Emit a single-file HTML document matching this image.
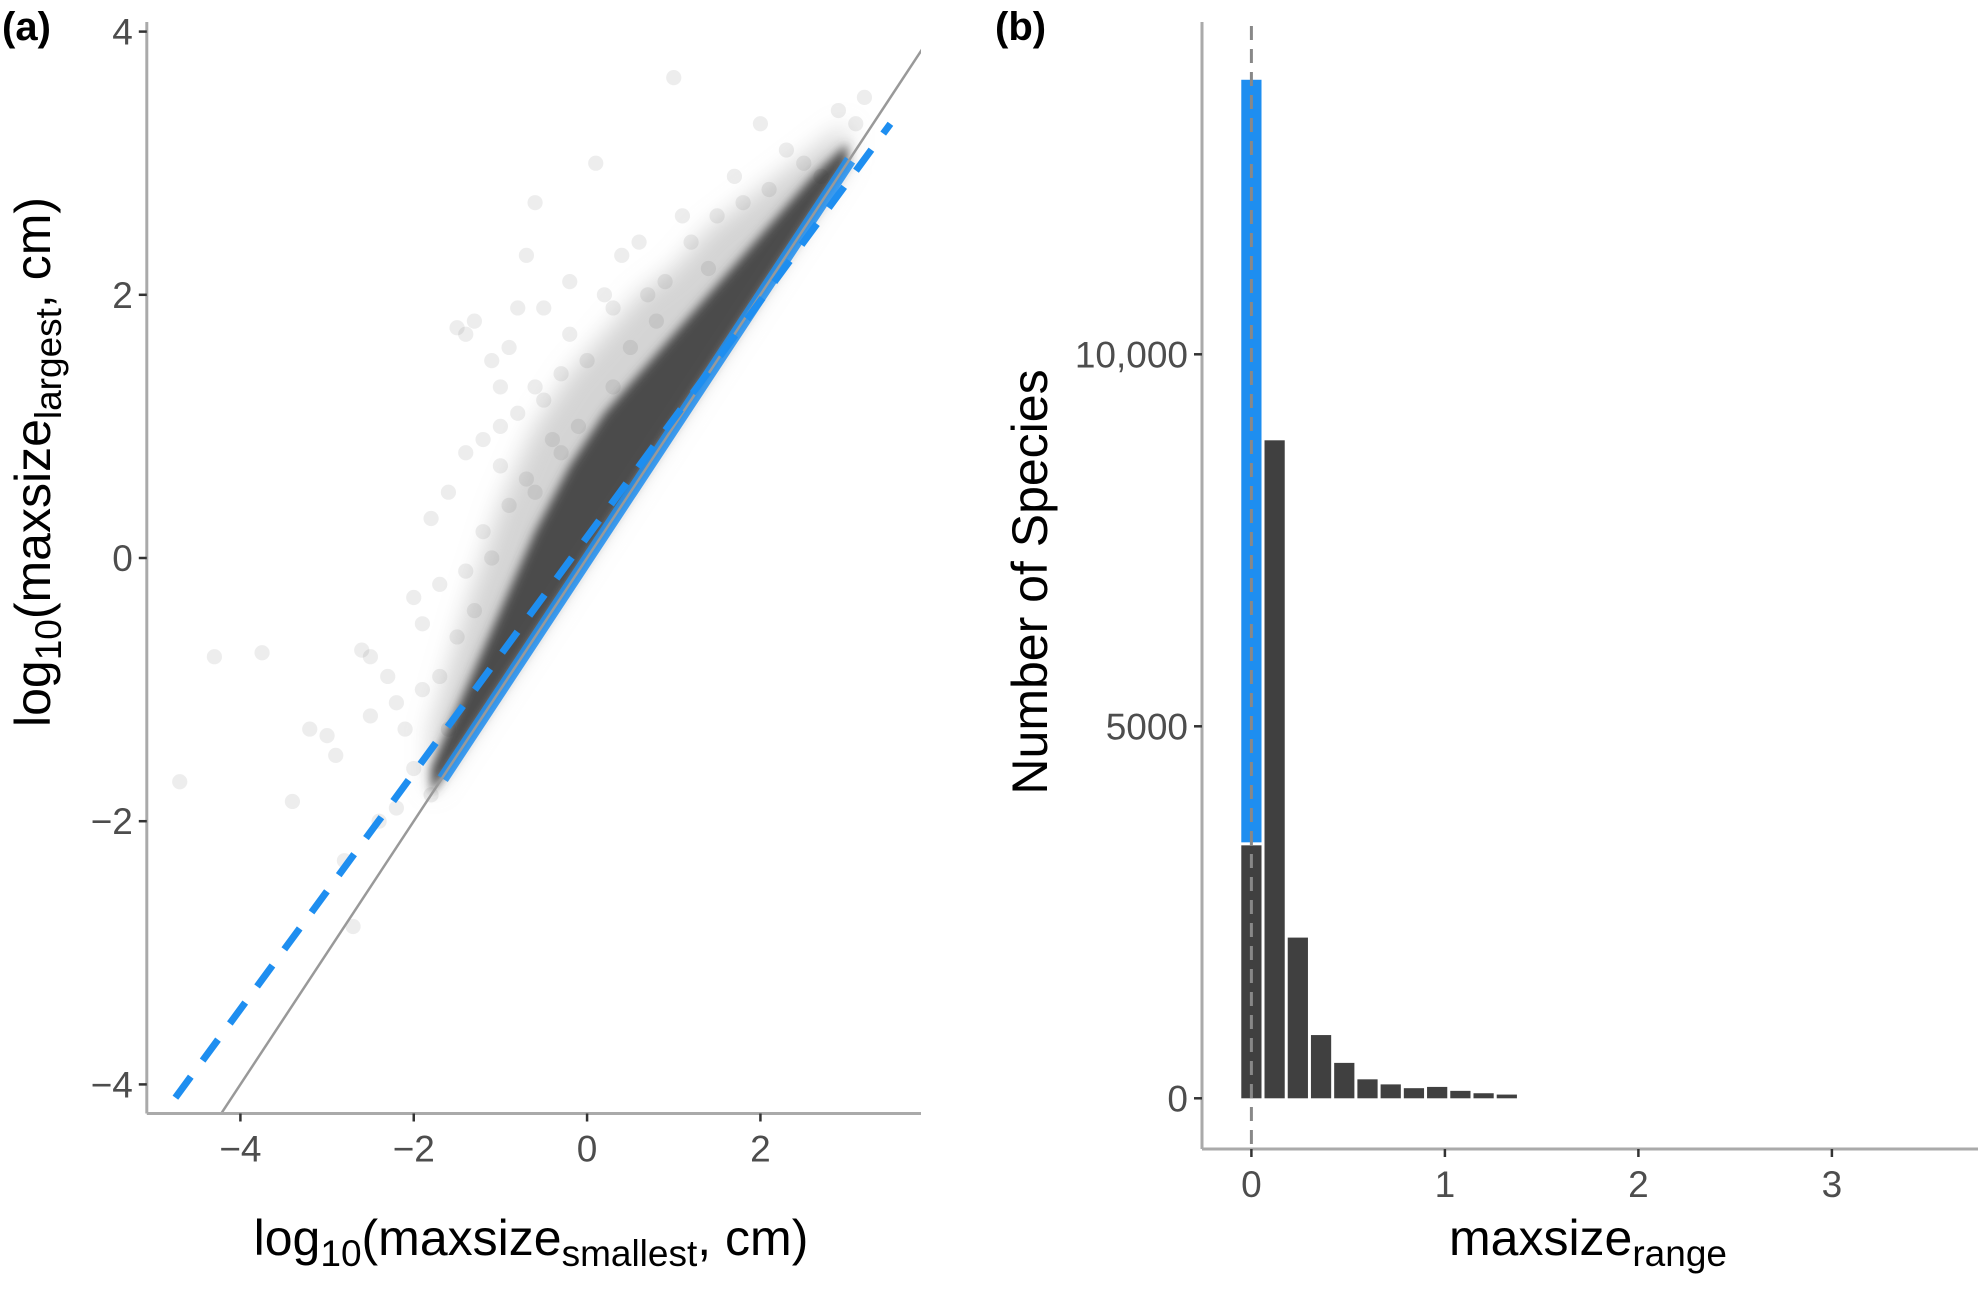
<!DOCTYPE html>
<html><head><meta charset="utf-8"><style>
html,body{margin:0;padding:0;background:#fff;}
svg text{font-family:"Liberation Sans",sans-serif;}
</style></head><body>
<svg id="fig" width="1984" height="1287" viewBox="0 0 1984 1287" xmlns="http://www.w3.org/2000/svg">
<defs><filter id="blur" x="-20%" y="-20%" width="140%" height="140%"><feGaussianBlur stdDeviation="12"/></filter>
<filter id="blur2" x="-20%" y="-20%" width="140%" height="140%"><feGaussianBlur stdDeviation="5"/></filter></defs>
<g id="pa"></g>
<g id="pb"></g>
</svg>
<script>
// ---- Panel A data ----
const aXTicks = [-4, -2, 0, 2];
const aYTicks = [4, 2, 0, -2, -4];
const outX = [-4.7,-4.3,-3.75,-3.4,-3.2,-3.0,-2.9,-2.8,-2.7,-2.6,-2.5,-2.4,-2.3,-2.2,-2.1,-2.0,-1.9,-1.8,-1.7,-1.6,-1.5,-1.5,-1.4,-1.3,-1.2,-1.1,-1.0,-0.9,-0.8,-0.7,-0.6,-0.5,-0.3,-0.2,0.1,0.3,0.4,0.6,0.8,1.0,1.1,1.4,1.7,2.0,2.3,2.9,3.2,3.1,-2.0,-1.8,-1.6,-1.4,-1.2,-1.0,-0.8,-0.6,-0.4,-0.2,0.0,0.2,0.5,0.7,0.9,1.2,1.5,1.8,2.1,2.5,2.7,-2.5,-2.2,-1.9,-1.7,-1.3,-1.1,-0.9,-0.7,-0.5,-0.3,-0.1,0.3,-1.4,-1.0,-0.6];
const outY = [-1.7,-0.75,-0.72,-1.85,-1.3,-1.35,-1.5,-2.3,-2.8,-0.7,-0.75,-2.0,-0.9,-1.9,-1.3,-1.6,-0.5,-1.8,-0.2,-1.3,-0.6,1.75,1.7,1.8,0.9,1.5,1.3,1.6,1.1,2.3,2.7,1.9,1.4,2.1,3.0,1.9,2.3,2.4,1.8,3.65,2.6,2.2,2.9,3.3,3.1,3.4,3.5,3.3,-0.3,0.3,0.5,0.8,0.2,0.7,1.9,1.3,0.9,1.7,1.5,2.0,1.6,2.0,2.1,2.4,2.6,2.7,2.8,3.0,2.9,-1.2,-1.1,-1.0,-0.9,-0.4,0.0,0.4,0.6,1.2,0.8,1.0,1.3,-0.1,1.0,0.5];
const coreX = [-1.8,-1.4,-1.0,-0.6,-0.2,0.2,0.6,1.0,1.4,1.8,2.2,2.6,3.0];
const coreUpper = [-1.6,-1.0,-0.4,0.2,0.7,1.1,1.4,1.7,2.0,2.3,2.6,2.9,3.15];
const haloUpper = [-1.3,-0.4,0.4,1.0,1.4,1.7,2.0,2.2,2.5,2.7,2.9,3.1,3.3];
const blueBand = [-1.7, 3.0];
const regSlope = 0.897, regIntercept = 0.16, regRange = [-4.75, 3.5];

// ---- Panel B data ----
const binCenters = [0,0.12,0.24,0.36,0.48,0.6,0.72,0.84,0.96,1.08,1.2,1.32];
const binCounts = [13690,8844,2160,850,476,255,187,136,153,100,68,50];
const zeroRangeCount = 10290; // blue portion of first bin
const bYTicks = [0,5000,10000];
const bYTickLabels = ["0","5000","10,000"];
const bXTicks = [0,1,2,3];
const binWidth = 0.12;

const NS="http://www.w3.org/2000/svg";
function mk(tag, attrs, parent){const e=document.createElementNS(NS,tag);for(const k in attrs)e.setAttribute(k,attrs[k]);parent.appendChild(e);return e;}
const TF=37;

// ---------- Panel A ----------
const pa=document.getElementById('pa');
const ax=v=>240.4+(v+4)*86.67;
const ay=v=>1084.4-(v+4)*131.6;
const aL=146.8, aB=1113.5, aR=921, aT=22;
const clipA=mk('clipPath',{id:'clipA'},pa);
mk('rect',{x:aL,y:aT,width:aR-aL,height:aB-aT},clipA);
const plotA=mk('g',{'clip-path':'url(#clipA)'},pa);


let pts=[];
coreX.forEach((x,i)=>pts.push(ax(x)+','+ay(haloUpper[i])));
for(let i=coreX.length-1;i>=0;i--)pts.push(ax(coreX[i])+','+ay(coreX[i]));
const halo=mk('polygon',{points:pts.join(' '),fill:'#aaa','fill-opacity':0.5,filter:'url(#blur)'},plotA);


pts=[];
coreX.forEach((x,i)=>pts.push(ax(x)+','+ay(coreUpper[i])));
for(let i=coreX.length-1;i>=0;i--)pts.push(ax(coreX[i])+','+ay(coreX[i]));
const core=mk('polygon',{points:pts.join(' '),fill:'#444','fill-opacity':0.95,filter:'url(#blur2)'},plotA);


outX.forEach((x,i)=>{
  const c=mk('circle',{cx:ax(x),cy:ay(outY[i]),r:7.6,fill:'#333','fill-opacity':0.09},plotA);
  
  
});
const bb=mk('line',{x1:ax(blueBand[0])+3,y1:ay(blueBand[0])-3,x2:ax(blueBand[1])+3,y2:ay(blueBand[1])-3,stroke:'#1e8ef0','stroke-width':12,'stroke-opacity':0.85},plotA);


const one=mk('line',{x1:ax(-4.6),y1:ay(-4.6),x2:ax(3.9),y2:ay(3.9),stroke:'#999','stroke-width':2.5},plotA);


const reg=mk('line',{x1:ax(regRange[0]),y1:ay(regIntercept+regSlope*regRange[0]),x2:ax(regRange[1]),y2:ay(regIntercept+regSlope*regRange[1]),stroke:'#1e8ef0','stroke-width':7,'stroke-dasharray':'26 20'},plotA);


const yaA=mk('line',{x1:aL,y1:aT,x2:aL,y2:aB,stroke:'#aaa','stroke-width':3},pa);

const xaA=mk('line',{x1:aL,y1:aB,x2:aR,y2:aB,stroke:'#aaa','stroke-width':3},pa);

aYTicks.forEach(v=>{
  const t=mk('line',{x1:aL-8,y1:ay(v),x2:aL,y2:ay(v),stroke:'#333','stroke-width':2.5},pa);
  
  const l=mk('text',{x:aL-14,y:ay(v)+13,'text-anchor':'end','font-size':TF,fill:'#4d4d4d'},pa);
  l.textContent=v<0?'\u2212'+(-v):String(v);
  
});
aXTicks.forEach(v=>{
  const t=mk('line',{x1:ax(v),y1:aB,x2:ax(v),y2:aB+8,stroke:'#333','stroke-width':2.5},pa);
  
  const l=mk('text',{x:ax(v),y:aB+48,'text-anchor':'middle','font-size':TF,fill:'#4d4d4d'},pa);
  l.textContent=v<0?'\u2212'+(-v):String(v);
  
});
// ---------- Panel B ----------
const pb=document.getElementById('pb');
const bx=v=>1251.4+v*193.5;
const by=v=>1098.3-v*0.07440;
const bL=1202, bB=1149, bR=1978, bT=22;
binCenters.forEach((c,i)=>{
  const x0=bx(c-binWidth/2)+1.5, w=bx(binWidth)-bx(0)-3;
  if(i===0){
    const g=mk('rect',{x:x0,y:by(binCounts[0]-zeroRangeCount),width:w,height:by(0)-by(binCounts[0]-zeroRangeCount),fill:'#404040'},pb);
    
    const b=mk('rect',{x:x0,y:by(binCounts[0]),width:w,height:by(binCounts[0]-zeroRangeCount)-by(binCounts[0])-3,fill:'#1e8ef0'},pb);
    
  } else {
    const r=mk('rect',{x:x0,y:by(binCounts[i]),width:w,height:by(0)-by(binCounts[i]),fill:'#404040'},pb);
    
  }
});
const vl=mk('line',{x1:bx(0),y1:bT+4,x2:bx(0),y2:bB-4,stroke:'#888','stroke-width':3,'stroke-dasharray':'14 9'},pb);

const yaB=mk('line',{x1:bL,y1:bT,x2:bL,y2:bB,stroke:'#aaa','stroke-width':3},pb);

const xaB=mk('line',{x1:bL,y1:bB,x2:bR,y2:bB,stroke:'#aaa','stroke-width':3},pb);

bYTicks.forEach((v,i)=>{
  const t=mk('line',{x1:bL-8,y1:by(v),x2:bL,y2:by(v),stroke:'#333','stroke-width':2.5},pb);
  
  const l=mk('text',{x:bL-14,y:by(v)+13,'text-anchor':'end','font-size':TF,fill:'#4d4d4d'},pb);
  l.textContent=bYTickLabels[i];
  
});
bXTicks.forEach(v=>{
  const t=mk('line',{x1:bx(v),y1:bB,x2:bx(v),y2:bB+8,stroke:'#333','stroke-width':2.5},pb);
  
  const l=mk('text',{x:bx(v),y:bB+48,'text-anchor':'middle','font-size':TF,fill:'#4d4d4d'},pb);
  l.textContent=String(v);
  
});
</script>
<svg style="position:absolute;left:0;top:0" width="1984" height="1287">
<text x="2" y="40" font-family="Liberation Sans, sans-serif" font-weight="bold" font-size="40">(a)</text>
<text x="995" y="40" font-family="Liberation Sans, sans-serif" font-weight="bold" font-size="40">(b)</text>
<text x="531" y="1255" text-anchor="middle" font-family="Liberation Sans, sans-serif" font-size="50">log<tspan font-size="37" dy="11">10</tspan><tspan dy="-11">(maxsize</tspan><tspan font-size="37" dy="11">smallest</tspan><tspan dy="-11">, cm)</tspan></text>
<text transform="translate(50,462) rotate(-90)" text-anchor="middle" font-family="Liberation Sans, sans-serif" font-size="50">log<tspan font-size="37" dy="11">10</tspan><tspan dy="-11">(maxsize</tspan><tspan font-size="37" dy="11">largest</tspan><tspan dy="-11">, cm)</tspan></text>
<text transform="translate(1047,582) rotate(-90)" text-anchor="middle" font-family="Liberation Sans, sans-serif" font-size="50">Number of Species</text>
<text x="1588" y="1255" text-anchor="middle" font-family="Liberation Sans, sans-serif" font-size="50">maxsize<tspan font-size="37" dy="11">range</tspan></text>
</svg>
</body></html>
